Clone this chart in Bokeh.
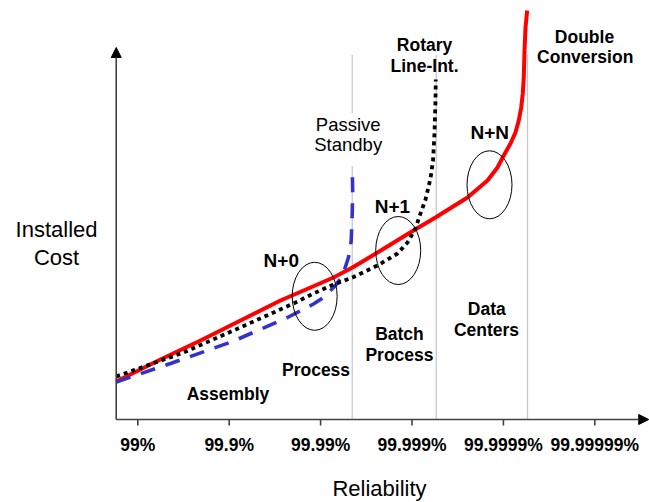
from bokeh.plotting import figure
from bokeh.models import Range1d, Arrow, NormalHead
from bokeh.core.properties import value
from bokeh.embed import file_html
from bokeh.resources import INLINE

# Reliability is expressed as "number of nines": 2 = 99%, 3 = 99.9%, ...
tick_nines = [2, 3, 4, 5, 6, 7]
tick_labels = ["99%", "99.9%", "99.99%", "99.999%", "99.9999%", "99.99999%"]

# Double Conversion (red, solid)
double_nines = [1.764, 2.248, 2.686, 3.124, 3.561, 3.890, 4.141, 4.349, 4.623, 5.016,
                5.257, 5.607, 5.826, 5.935, 6.004, 6.078, 6.132, 6.168, 6.195, 6.212,
                6.223, 6.231, 6.242, 6.260]
double_cost = [38, 60, 79, 99, 119, 132, 142, 152, 167, 189,
               202, 222, 239, 252, 264, 276, 287, 299, 312, 326,
               342, 369, 392, 409]

# Passive Standby (blue, dashed)
passive_nines = [1.764, 2.358, 3.036, 3.638, 3.922, 4.032, 4.163, 4.240, 4.305, 4.335,
                 4.346, 4.351, 4.346]
passive_cost = [37.5, 56, 78, 102, 115.5, 122, 134, 144, 162, 179,
                206, 229, 251]

# Rotary Line-Interactive (black, dotted)
rotary_nines = [1.764, 2.500, 3.047, 3.704, 3.922, 4.141, 4.349, 4.623, 4.841, 4.951,
                5.038, 5.093, 5.148, 5.202, 5.230, 5.246, 5.257, 5.260]
rotary_cost = [43, 67, 89, 116, 126, 135, 142, 154, 166, 177,
               191, 206, 220, 241, 259, 286, 319, 340]

# Application zone boundaries
zone_bounds = [4.346, 5.265, 6.264]
zone_names = ["Assembly", "Process", "Batch", "Process", "Data", "Centers"]

# Redundancy configurations (N+0, N+1, N+N)
config_names = ["N+0", "N+1", "N+N"]
config_nines = [3.935, 4.849, 5.848]
config_cost = [123.2, 169, 234.7]

FONT = value("Liberation Sans")


def lift(ys, size):
    # compensate the renderer's baseline placement (in px == y units)
    return [y + 0.36 * size for y in ys]


W, H = 649, 502
x0 = 2 + (0 - 137.3) / 91.4
x1 = 2 + (W - 137.3) / 91.4
p = figure(width=W, height=H, x_range=Range1d(x0, x1), y_range=Range1d(419 - H, 419),
           output_backend="svg", toolbar_location=None, min_border=0,
           x_axis_location=None, y_axis_location=None)
p.grid.visible = False
p.outline_line_color = None
p.background_fill_color = "white"
p.border_fill_color = "white"

axis_x0 = 1.764
# zone boundary lines (gray dotted)
p.segment(x0=[zone_bounds[0], zone_bounds[0], zone_bounds[1], zone_bounds[2]],
          y0=[364, 253, 364, 364],
          x1=[zone_bounds[0], zone_bounds[0], zone_bounds[1], zone_bounds[2]],
          y1=[306, 0, 0, 0],
          line_color="#8c8c8c", line_width=1.2, line_dash="1 1")

# axes
p.add_layout(Arrow(end=NormalHead(size=10, fill_color="black", line_color="black"),
                   x_start=axis_x0, y_start=0, x_end=axis_x0, y_end=372,
                   line_color="#404040", line_width=1.6))
p.add_layout(Arrow(end=NormalHead(size=10, fill_color="black", line_color="black"),
                   x_start=axis_x0, y_start=0, x_end=7.59, y_end=0,
                   line_color="#404040", line_width=1.6))
p.segment(x0=tick_nines, y0=[0] * 6, x1=tick_nines, y1=[-6] * 6,
          line_color="#404040", line_width=1.6)

# curves
p.line(double_nines, double_cost, line_color="#FF0000", line_width=4, line_join="round")
p.line(passive_nines, passive_cost, line_color="#3333CC", line_width=3.6, line_dash="15 11")
p.line(rotary_nines, rotary_cost, line_color="black", line_width=3.8, line_dash="4 4")

# ellipses around configurations
p.ellipse(x=config_nines, y=config_cost, width=0.492, height=68,
          fill_color=None, line_color="black", line_width=1)

# tick labels
p.text(x=tick_nines, y=lift([-31.7] * 6, 17.5), text=tick_labels, text_font=FONT,
       text_font_size="17.5px", text_font_style="bold", text_align="center",
       text_baseline="alphabetic", text_color="black")

# zone labels
p.text(x=[2.987, 3.950, 4.863, 4.863, 5.818, 5.815],
       y=lift([19.7, 43, 79.7, 58, 104, 83], 17.5),
       text=zone_names, text_font=FONT, text_font_size="17.5px",
       text_font_style="bold", text_align="center", text_baseline="alphabetic",
       text_color="black")

# series labels
p.text(x=[5.137, 5.137, 6.887, 6.895],
       y=lift([368.3, 347.3, 376.3, 356.3], 17.5),
       text=["Rotary", "Line-Int.", "Double", "Conversion"], text_font=FONT,
       text_font_size="17.5px", text_font_style="bold", text_align="center",
       text_baseline="alphabetic", text_color="black")
p.text(x=[4.302, 4.302], y=lift([288.3, 268], 18.5), text=["Passive", "Standby"],
       text_font=FONT, text_font_size="18.5px", text_align="center",
       text_baseline="alphabetic", text_color="black")

# configuration labels
p.text(x=[3.570, 4.785, 5.851], y=lift([151.7, 205.7, 279.7], 19), text=config_names,
       text_font=FONT, text_font_size="19px", text_font_style="bold",
       text_align="center", text_baseline="alphabetic", text_color="black")

# axis titles
p.text(x=[1.111, 1.111], y=lift([182.3, 154], 22), text=["Installed", "Cost"],
       text_font=FONT, text_font_size="22px", text_align="center",
       text_baseline="alphabetic", text_color="black")
p.text(x=[4.644], y=lift([-77], 22), text=["Reliability"],
       text_font=FONT, text_font_size="22px", text_align="center",
       text_baseline="alphabetic", text_color="black")

open("out.html", "w").write(file_html(p, INLINE))
